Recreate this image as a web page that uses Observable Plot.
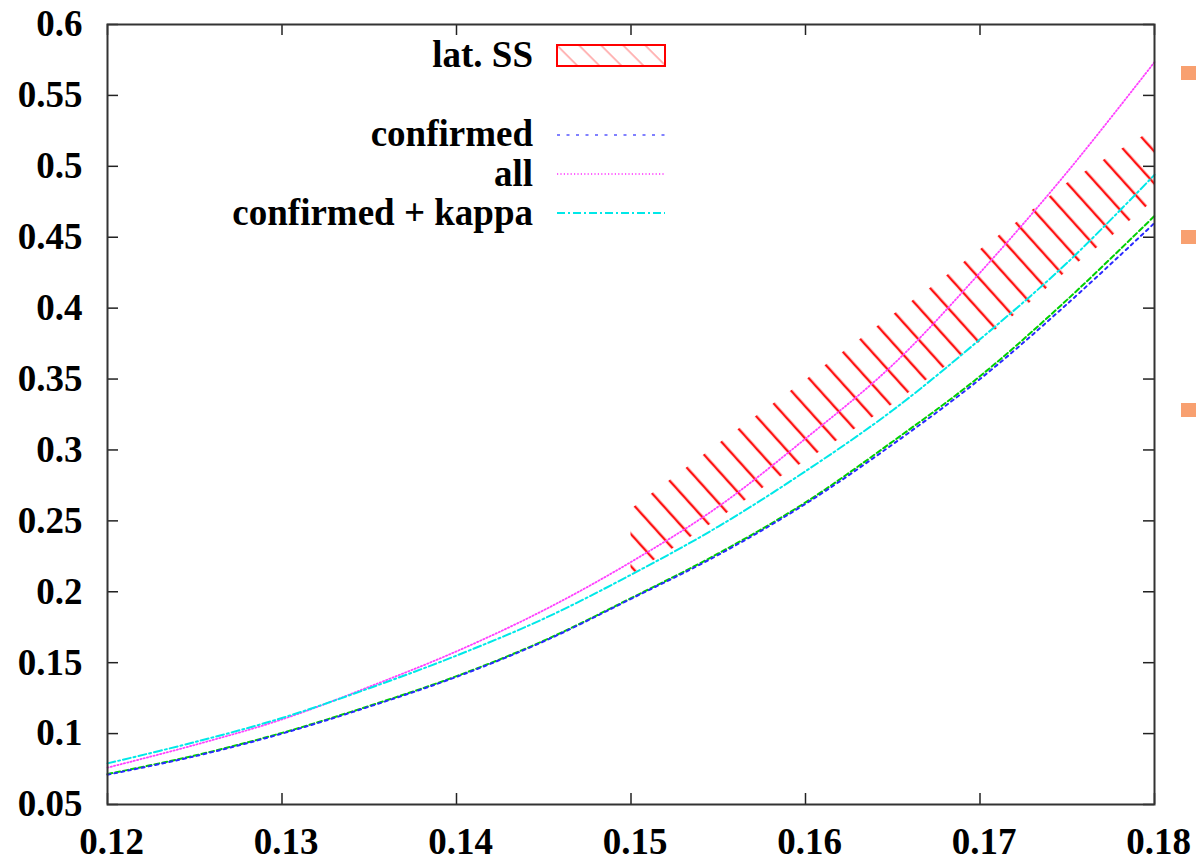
<!DOCTYPE html>
<html><head><meta charset="utf-8">
<script src="https://cdn.jsdelivr.net/npm/d3@7"></script>
<script src="https://cdn.jsdelivr.net/npm/@observablehq/plot@0.6"></script>
<style>
html,body{margin:0;padding:0;background:#fff;}
#wrap{position:relative;width:1197px;height:861px;overflow:hidden;background:#fff;}
.sq{position:absolute;background:#f8a070;width:15px;height:14px;}
</style></head><body><div id="wrap"></div>
<script>
// ---- data ----
const xs        = [0.12, 0.125, 0.13, 0.135, 0.14, 0.145, 0.15, 0.155, 0.16, 0.165, 0.17, 0.175, 0.18];
const confirmed = [0.071, 0.084, 0.100, 0.119, 0.140, 0.165, 0.195, 0.226, 0.262, 0.304, 0.350, 0.403, 0.460];
const untitled  = [0.0715, 0.0845, 0.1005, 0.1195, 0.1405, 0.1655, 0.1955, 0.227, 0.263, 0.306, 0.352, 0.406, 0.465];
const allSeries = [0.076, 0.092, 0.110, 0.133, 0.158, 0.187, 0.221, 0.260, 0.308, 0.360, 0.425, 0.496, 0.5735];
const kappa     = [0.079, 0.094, 0.111, 0.132, 0.155, 0.181, 0.212, 0.246, 0.285, 0.328, 0.378, 0.432, 0.494];

const bandX    = [0.15, 0.1525, 0.155, 0.1575, 0.16, 0.1625, 0.165, 0.1675, 0.17, 0.1725, 0.175, 0.1775, 0.18];
const bandLow  = [0.212, 0.231, 0.251, 0.2725, 0.292, 0.312, 0.332, 0.354, 0.376, 0.400, 0.426, 0.450, 0.476];
const bandHigh = [0.258, 0.281, 0.304, 0.3265, 0.349, 0.372, 0.395, 0.417, 0.441, 0.464, 0.488, 0.5075, 0.526];

const xTicks = [0.12, 0.13, 0.14, 0.15, 0.16, 0.17, 0.18];
const xTickLabels = ["0.12", "0.13", "0.14", "0.15", "0.16", "0.17", "0.18"];
const yTicks = [0.05, 0.1, 0.15, 0.2, 0.25, 0.3, 0.35, 0.4, 0.45, 0.5, 0.55, 0.6];
const yTickLabels = ["0.05", "0.1", "0.15", "0.2", "0.25", "0.3", "0.35", "0.4", "0.45", "0.5", "0.55", "0.6"];

const legendLabels = ["lat. SS", "", "confirmed", "all", "confirmed + kappa"];

// ---- build ----
const FONT = "Liberation Serif, Times New Roman, serif";
const FS = 37;
const W = 1197, H = 861, ML = 107, MR = 43, MT = 24, MB = 57;
const PW = W - ML - MR, PH = H - MT - MB, TICK = 11;

const xLab = new Map(xTicks.map((d, i) => [d, xTickLabels[i]]));
const yLab = new Map(yTicks.map((d, i) => [d, yTickLabels[i]]));

const band = bandX.map((x, i) => ({x, lo: bandLow[i], hi: bandHigh[i]}));
const mk = (arr) => xs.map((x, i) => ({x, y: arr[i]}));

const styles = {
  untitled:  {stroke: "#00d000", strokeWidth: 2, strokeDasharray: "5,3"},
  confirmed: {stroke: "#2a2aff", strokeWidth: 2, strokeDasharray: "3,4"},
  all:       {stroke: "#ff40ff", strokeWidth: 1.8, strokeDasharray: "1.2,2.2"},
  kappa:     {stroke: "#00e8e8", strokeWidth: 2, strokeDasharray: "8,3,2,3"}
};

const chart = Plot.plot({
  width: W, height: H,
  marginLeft: ML, marginRight: MR, marginTop: MT, marginBottom: MB,
  style: {fontFamily: FONT, fontWeight: "bold", fontSize: FS + "px", background: "white", color: "black"},
  x: {domain: [0.12, 0.18]},
  y: {domain: [0.05, 0.6]},
  marks: [
    Plot.areaY(band, {x: "x", y1: "lo", y2: "hi", fill: "url(#latssHatch)", curve: "linear"}),
    Plot.line(mk(untitled), {x: "x", y: "y", curve: "catmull-rom", ...styles.untitled}),
    Plot.line(mk(confirmed), {x: "x", y: "y", curve: "catmull-rom", ...styles.confirmed}),
    Plot.line(mk(allSeries), {x: "x", y: "y", curve: "catmull-rom", ...styles.all}),
    Plot.line(mk(kappa), {x: "x", y: "y", curve: "catmull-rom", ...styles.kappa}),
    // inward ticks on all four sides
    Plot.tickY(yTicks, {y: d => d, insetRight: PW - TICK, stroke: "#222", strokeWidth: 1.5}),
    Plot.tickY(yTicks, {y: d => d, insetLeft: PW - TICK, stroke: "#222", strokeWidth: 1.5}),
    Plot.tickX(xTicks, {x: d => d, insetTop: PH - TICK, stroke: "#222", strokeWidth: 1.5}),
    Plot.tickX(xTicks, {x: d => d, insetBottom: PH - TICK, stroke: "#222", strokeWidth: 1.5}),
    Plot.frame({stroke: "#333", strokeWidth: 2}),
    Plot.axisX(xTicks, {anchor: "bottom", tickSize: 0, tickPadding: 23, dx: 4, label: null,
      tickFormat: d => xLab.get(d), fontSize: FS, fontWeight: "bold", fontFamily: FONT, fill: "black"}),
    Plot.axisY(yTicks, {anchor: "left", tickSize: 0, tickPadding: 25, label: null,
      tickFormat: d => yLab.get(d), fontSize: FS, fontWeight: "bold", fontFamily: FONT, fill: "black"})
  ]
});

const svg = d3.select(chart);
const defs = svg.insert("defs", ":first-child");
const pat = defs.append("pattern").attr("id", "latssHatch")
  .attr("patternUnits", "userSpaceOnUse").attr("width", 21.5).attr("height", 20)
  .attr("patternTransform", "rotate(-42)");
pat.append("line").attr("x1", 4).attr("y1", -1).attr("x2", 4).attr("y2", 21)
  .attr("stroke", "#ff1010").attr("stroke-width", 2.4);
const pat2 = defs.append("pattern").attr("id", "latssKey")
  .attr("patternUnits", "userSpaceOnUse").attr("width", 15.6).attr("height", 20)
  .attr("patternTransform", "rotate(-45)");
pat2.append("line").attr("x1", 3).attr("y1", -1).attr("x2", 3).attr("y2", 21)
  .attr("stroke", "#ff7070").attr("stroke-width", 1);

// ---- legend (gnuplot-style key) ----
const key = svg.append("g").attr("font-family", FONT).attr("font-weight", "bold")
  .attr("font-size", FS).attr("fill", "black").attr("text-anchor", "end");
const textX = 533, sx1 = 557, sx2 = 665;
const baselines = [67, 106.5, 146, 185.5, 225];
const centers = [55.5, 96, 135, 174, 213];
legendLabels.forEach((lab, i) => {
  if (lab) key.append("text").attr("x", textX).attr("y", baselines[i]).text(lab);
});
key.append("rect").attr("x", sx1).attr("y", 45).attr("width", sx2 - sx1).attr("height", 21)
  .attr("fill", "url(#latssKey)").attr("stroke", "#ff0000").attr("stroke-width", 2);
const keyLines = [[2, styles.confirmed, "#8080ff"], [3, styles.all, "#ff60ff"], [4, styles.kappa, "#00e8e8"]];
keyLines.forEach(([i, s, c]) => {
  key.append("line").attr("x1", sx1).attr("x2", sx2).attr("y1", centers[i]).attr("y2", centers[i])
    .attr("stroke", c).attr("stroke-width", s.strokeWidth)
    .attr("stroke-dasharray", i === 2 ? "3,6.5" : s.strokeDasharray);
});

const wrap = document.getElementById("wrap");
wrap.appendChild(chart);
chart.style.position = "absolute"; chart.style.left = "0"; chart.style.top = "0";

// orange bullet squares at the right edge (neighbouring content in the reference)
[[1181, 66], [1181, 230], [1181, 403]].forEach(([l, t]) => {
  const d = document.createElement("div"); d.className = "sq";
  d.style.left = l + "px"; d.style.top = t + "px"; wrap.appendChild(d);
});
</script></body></html>
